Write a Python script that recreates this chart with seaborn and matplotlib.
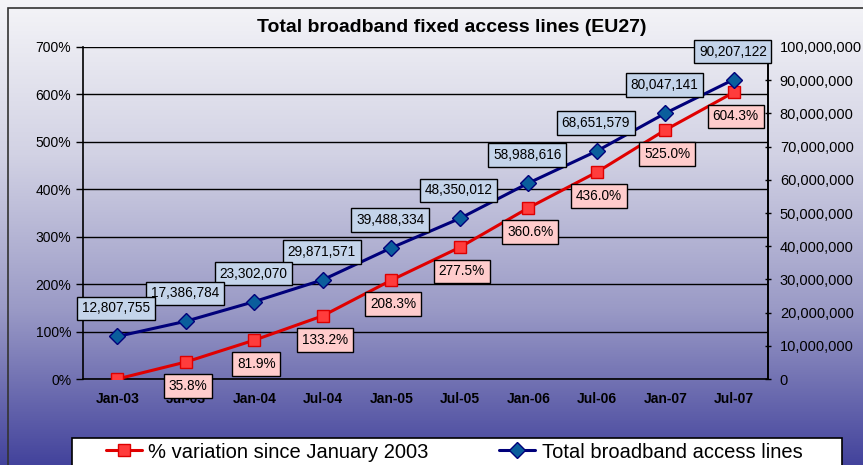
import numpy as np
import pandas as pd
import seaborn as sns
import matplotlib.pyplot as plt
from matplotlib.colors import LinearSegmentedColormap
from matplotlib.patches import Rectangle
from matplotlib.ticker import FuncFormatter

# data
months = ['Jan-03', 'Jul-03', 'Jan-04', 'Jul-04', 'Jan-05',
          'Jul-05', 'Jan-06', 'Jul-06', 'Jan-07', 'Jul-07']
pct_variation = [0.0, 35.8, 81.9, 133.2, 208.3, 277.5, 360.6, 436.0, 525.0, 604.3]
total_lines = [12807755, 17386784, 23302070, 29871571, 39488334,
               48350012, 58988616, 68651579, 80047141, 90207122]

df = pd.DataFrame({'month': months, 'pct': pct_variation, 'total': total_lines})
df['pos'] = np.arange(len(df))

sns.set_style('white')
plt.rcParams['font.family'] = ['Liberation Sans', 'DejaVu Sans']
plt.rcParams['text.color'] = 'black'
plt.rcParams['xtick.color'] = 'black'
plt.rcParams['ytick.color'] = 'black'
plt.rcParams['axes.labelcolor'] = 'black'

fig = plt.figure(figsize=(8.63, 4.65), dpi=100)

# gradient background + outer frame
bg = fig.add_axes([0, 0, 1, 1], zorder=-10)
cmap = LinearSegmentedColormap.from_list('bg', ['#f5f5f8', '#d2d2e4', '#9a9ac6', '#43439c'])
grad = np.linspace(0, 1, 256).reshape(-1, 1)
bg.imshow(grad, aspect='auto', cmap=cmap, extent=[0, 1, 0, 1], origin='upper')
bg.set_axis_off()
fig.patches.append(Rectangle((8 / 863, -0.1), 1.2, 1 - 8 / 465 + 0.1, transform=fig.transFigure,
                             fill=False, edgecolor='#333333', lw=1.2, zorder=-5))

ax = fig.add_axes([83 / 863, 1 - 379 / 465, 685 / 863, 332 / 465])
ax.patch.set_alpha(0)
ax2 = ax.twinx()
ax2.patch.set_alpha(0)

sns.lineplot(data=df, x='pos', y='pct', ax=ax, color='#e00000', lw=2.2,
             marker='s', markersize=9, markerfacecolor='#ff3c3c', markeredgecolor='#dd0000',
             markeredgewidth=1, zorder=4, label='% variation since January 2003', legend=False)
sns.lineplot(data=df, x='pos', y='total', ax=ax2, color='#00007a', lw=2.2,
             marker='D', markersize=8, markerfacecolor='#0a5e9c', markeredgecolor='#00007a',
             markeredgewidth=1, zorder=4, label='Total broadband access lines', legend=False)

ax.set_xlim(-0.5, len(months) - 0.5)
ax.set_ylim(0, 700)
ax2.set_ylim(0, 100000000)
ax.set_yticks(np.arange(0, 701, 100))
ax2.set_yticks(np.arange(0, 100000001, 10000000))
ax.yaxis.set_major_formatter(FuncFormatter(lambda v, p: f'{v:.0f}%'))
ax2.yaxis.set_major_formatter(FuncFormatter(lambda v, p: f'{v:,.0f}'))
ax.set_xticks(df['pos'])
ax.set_xticklabels(months, fontweight='bold', fontsize=10)
ax.set_xticks(np.arange(0.5, len(months) - 0.5, 1), minor=True)
ax.tick_params(axis='x', which='major', length=0, pad=9)
ax.tick_params(axis='x', which='minor', length=5, direction='out', width=1)
ax.tick_params(axis='y', length=5, direction='out', labelsize=10, width=1)
ax2.tick_params(axis='y', length=5, direction='inout', labelsize=10.5, width=1, pad=6)
ax.set_xlabel('')
ax.set_ylabel('')
ax2.set_ylabel('')
ax.grid(axis='y', color='black', lw=1)
ax.set_axisbelow(True)
for a in (ax, ax2):
    for s in a.spines.values():
        s.set_color('black')
        s.set_linewidth(1.2)
    a.spines['top'].set_visible(False)
ax2.spines['left'].set_visible(False)
ax2.spines['bottom'].set_visible(False)

# data labels
for i, row in df.iterrows():
    if row['pct'] > 0:
        ax.annotate(f"{row['pct']:.1f}%", (row['pos'], row['pct']), xytext=(2, -24),
                    textcoords='offset pixels', ha='center', va='center',
                    fontsize=9.8, zorder=6,
                    bbox=dict(boxstyle='square,pad=0.35', fc='#ffcccc', ec='black', lw=1))
    ax2.annotate(f"{row['total']:,}", (row['pos'], row['total']), xytext=(-1, 28),
                 textcoords='offset pixels', ha='center', va='center',
                 fontsize=9.8, zorder=20 - i,
                 bbox=dict(boxstyle='square,pad=0.35', fc='#c4d4ea', ec='black', lw=1))

fig.text(452 / 863, 1 - 28 / 465, 'Total broadband fixed access lines (EU27)',
         ha='center', va='center', fontsize=14, fontweight='bold')

# legend: white box drawn separately, entries placed inside
fig.patches.append(Rectangle((72 / 863, -0.05), 770 / 863, 0.05 + 1 - 438 / 465,
                             transform=fig.transFigure, fc='white', ec='black', lw=1.2, zorder=1))
h1, l1 = ax.get_legend_handles_labels()
h2, l2 = ax2.get_legend_handles_labels()
leg = fig.legend(h1 + h2, l1 + l2, loc='center left', ncol=2,
                 bbox_to_anchor=(96 / 863, 1 - 452 / 465),
                 fontsize=14.5, frameon=False, handlelength=1.8, handletextpad=0.3,
                 borderpad=0, columnspacing=3.5)
leg.set_zorder(2)

fig.savefig('out.png', dpi=100)
